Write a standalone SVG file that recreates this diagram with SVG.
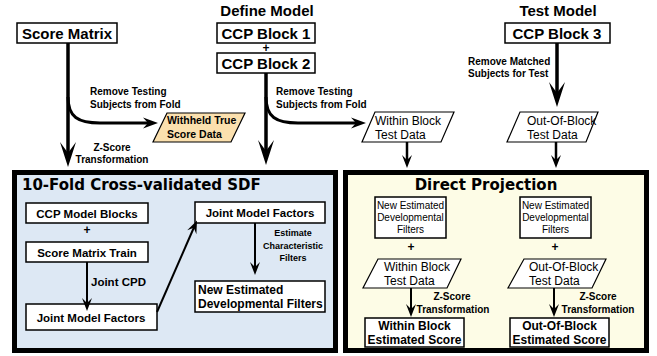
<svg xmlns="http://www.w3.org/2000/svg" width="657" height="356" viewBox="0 0 657 356">
<style>
.bx{fill:#fff;stroke:#000;stroke-width:1.5}
.big{stroke:#000;stroke-width:5}
.pg{stroke:#000;stroke-width:1.2}
.t{font-family:"Liberation Sans",Arial,sans-serif;fill:#000}
.b{font-weight:bold}
.h{font-family:"Liberation Sans",Arial,sans-serif;font-weight:bold;font-size:15px}
.dv{font-family:"DejaVu Sans",sans-serif;font-weight:bold;font-size:15px}
.c{text-anchor:middle}
.l3{fill:none;stroke:#000;stroke-width:3.5}
.l2{fill:none;stroke:#000;stroke-width:3}
.l1{fill:none;stroke:#000;stroke-width:2}
.l25{fill:none;stroke:#000;stroke-width:2.5}
</style>
<defs>
<marker id="ahB" markerUnits="userSpaceOnUse" viewBox="-26 -9 27 18" markerWidth="27" markerHeight="18" refX="-10" refY="0" orient="auto"><path d="M0,0 L-25,-8 L-14,0 L-25,8 Z"/></marker>
<marker id="ahM" markerUnits="userSpaceOnUse" viewBox="-16 -6 17 12" markerWidth="17" markerHeight="12" refX="-6" refY="0" orient="auto"><path d="M0,0 L-15,-5.5 L-10,0 L-15,5.5 Z"/></marker>
<marker id="ahS" markerUnits="userSpaceOnUse" viewBox="-14 -6 15 12" markerWidth="15" markerHeight="12" refX="-5" refY="0" orient="auto"><path d="M0,0 L-13,-5 L-8,0 L-13,5 Z"/></marker>
</defs>

<!-- panels -->
<g id="panel-sdf">
<rect x="14.5" y="172.5" width="321" height="178" style="fill:#dde8f4" class="big"/>
<text x="22" y="190" class="dv">10-Fold Cross-validated SDF</text>
</g>
<g id="panel-dp">
<rect x="345.5" y="172.5" width="301" height="178" style="fill:#fdfce6" class="big"/>
<text x="486" y="190" class="dv c">Direct Projection</text>
</g>

<!-- top nodes -->
<g id="score-matrix">
<rect x="17" y="23" width="100" height="20" class="bx"/>
<text x="67" y="39" class="h t c">Score Matrix</text>
</g>
<g id="define-model">
<text x="267" y="16" class="h t c">Define Model</text>
<rect x="217" y="23" width="98" height="20" class="bx"/>
<text x="266" y="39" class="h t c">CCP Block 1</text>
<text x="266" y="52" class="t b c" font-size="12">+</text>
<rect x="217" y="53" width="98" height="20" class="bx"/>
<text x="266" y="69" class="h t c">CCP Block 2</text>
</g>
<g id="test-model">
<text x="558" y="16" class="h t c">Test Model</text>
<rect x="505" y="23" width="105" height="20" class="bx"/>
<text x="557" y="39" class="h t c">CCP Block 3</text>
</g>
<g id="withheld">
<polygon points="167,113 245,113 231,142 153,142" style="fill:#fbe0ae" class="pg"/>
<text x="167" y="124" class="t b" font-size="10.5">Withheld True</text>
<text x="167" y="138" class="t b" font-size="10.5">Score Data</text>
</g>
<g id="within-test">
<polygon points="375,112 454,112 441,142 362,142" fill="#fff" class="pg"/>
<text x="375" y="125" class="t" font-size="12">Within Block</text>
<text x="375" y="139" class="t" font-size="12">Test Data</text>
</g>
<g id="oob-test">
<polygon points="520,112 598,112 586,142 507,142" fill="#fff" class="pg"/>
<text x="527" y="125" class="t" font-size="12">Out-Of-Block</text>
<text x="527" y="139" class="t" font-size="12">Test Data</text>
</g>

<!-- SDF inner nodes -->
<g id="ccp-model-blocks">
<rect x="26" y="203" width="122" height="20" class="bx"/>
<text x="87" y="218" class="t b c" font-size="11.5">CCP Model Blocks</text>
<text x="87" y="234" class="t b c" font-size="12">+</text>
</g>
<g id="score-matrix-train">
<rect x="26" y="242" width="122" height="20" class="bx"/>
<text x="87" y="257" class="t b c" font-size="11.5">Score Matrix Train</text>
</g>
<g id="jmf-bottom">
<rect x="26" y="304" width="131" height="26" class="bx"/>
<text x="91" y="322" class="t b c" font-size="11.5">Joint Model Factors</text>
</g>
<g id="jmf-top">
<rect x="195" y="202" width="130" height="21" class="bx"/>
<text x="260" y="217" class="t b c" font-size="11.5">Joint Model Factors</text>
</g>
<g id="nedf">
<rect x="195" y="281" width="130" height="31" class="bx"/>
<text x="198" y="294" class="t b" font-size="12">New Estimated</text>
<text x="198" y="308" class="t b" font-size="12">Developmental Filters</text>
</g>

<!-- DP inner nodes -->
<g id="dp-nedf-1">
<rect x="375" y="197" width="71" height="41" class="bx"/>
<text x="410.5" y="209" class="t c" font-size="10">New Estimated</text>
<text x="410.5" y="221" class="t c" font-size="10">Developmental</text>
<text x="410.5" y="233" class="t c" font-size="10">Filters</text>
<text x="411" y="251" class="t b c" font-size="12">+</text>
</g>
<g id="dp-nedf-2">
<rect x="520" y="197" width="71" height="41" class="bx"/>
<text x="555.5" y="209" class="t c" font-size="10">New Estimated</text>
<text x="555.5" y="221" class="t c" font-size="10">Developmental</text>
<text x="555.5" y="233" class="t c" font-size="10">Filters</text>
<text x="555" y="251" class="t b c" font-size="12">+</text>
</g>
<g id="dp-within">
<polygon points="378,259 461,259 447,288 363,288" fill="#fff" class="pg"/>
<text x="384" y="271" class="t" font-size="12">Within Block</text>
<text x="384" y="285" class="t" font-size="12">Test Data</text>
</g>
<g id="dp-oob">
<polygon points="524,259 606,259 592,288 508,288" fill="#fff" class="pg"/>
<text x="529" y="271" class="t" font-size="12">Out-Of-Block</text>
<text x="529" y="285" class="t" font-size="12">Test Data</text>
</g>
<g id="within-score">
<rect x="365" y="318" width="99" height="29" class="bx"/>
<text x="414.5" y="330" class="t b c" font-size="12">Within Block</text>
<text x="414.5" y="344" class="t b c" font-size="12">Estimated Score</text>
</g>
<g id="oob-score">
<rect x="510" y="318" width="99" height="29" class="bx"/>
<text x="559.5" y="330" class="t b c" font-size="12">Out-Of-Block</text>
<text x="559.5" y="344" class="t b c" font-size="12">Estimated Score</text>
</g>

<!-- connectors -->
<g id="connectors">
<path d="M68,43 V157" class="l3" marker-end="url(#ahB)"/>
<path d="M68,97 C68,117 78,123 100,123 H152" class="l2" marker-end="url(#ahM)"/>
<path d="M266,73 V155" class="l3" marker-end="url(#ahB)"/>
<path d="M266,97 C266,117 276,123 298,123 H360" class="l2" marker-end="url(#ahM)"/>
<path d="M557,43 V97" class="l3" marker-end="url(#ahB)"/>
<path d="M407,142 V163" class="l25" marker-end="url(#ahS)"/>
<path d="M556,142 V163" class="l25" marker-end="url(#ahS)"/>
<path d="M87,262 V306" class="l1" marker-end="url(#ahS)"/>
<path d="M157,312 L195,225" class="l1" marker-end="url(#ahS)"/>
<path d="M255,223 V270" class="l1" marker-end="url(#ahS)"/>
<path d="M411,288 V312" class="l1" marker-end="url(#ahS)"/>
<path d="M554,288 V312" class="l1" marker-end="url(#ahS)"/>
</g>

<!-- connector labels -->
<g id="labels" class="t b" font-size="10">
<text x="90" y="95">Remove Testing</text>
<text x="90" y="108">Subjects from Fold</text>
<text x="276" y="95">Remove Testing</text>
<text x="276" y="108">Subjects from Fold</text>
<text x="112" y="151" class="c">Z-Score</text>
<text x="112" y="163" class="c">Transformation</text>
<text x="468" y="65">Remove Matched</text>
<text x="468" y="77">Subjects for Test</text>
<text x="91" y="286" font-size="11.5">Joint CPD</text>
<text x="293" y="236" class="c" font-size="9">Estimate</text>
<text x="293" y="249" class="c" font-size="9">Characteristic</text>
<text x="293" y="261" class="c" font-size="9">Filters</text>
<text x="452" y="300" class="c">Z-Score</text>
<text x="453" y="313" class="c">Transformation</text>
<text x="598" y="300" class="c">Z-Score</text>
<text x="598" y="313" class="c">Transformation</text>
</g>
</svg>
